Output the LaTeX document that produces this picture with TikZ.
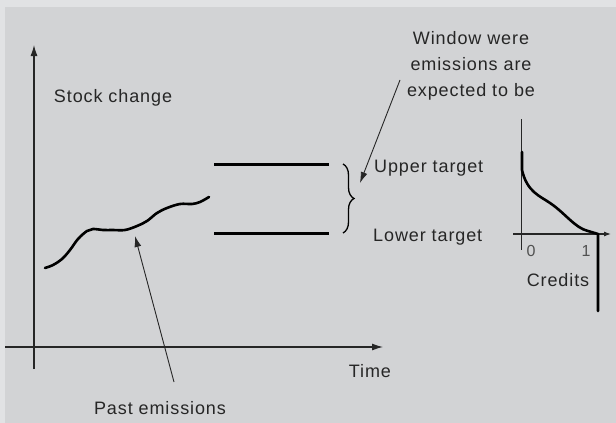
\documentclass[tikz,border=0pt]{standalone}
\usepackage{fontspec}
\setmainfont{Liberation Sans}[LetterSpace=5]
\usetikzlibrary{positioning,arrows.meta,decorations.pathreplacing}
\definecolor{panel}{HTML}{D2D3D5}
\definecolor{band}{HTML}{E1E2E4}
\definecolor{ink}{HTML}{262626}
\tikzset{
  axis/.style={draw=ink, line width=1.1pt},
  level/.style={draw=black, line width=3pt},
  trace/.style={draw=black, line width=2.6pt, line cap=round, line join=round},
  pointer/.style={draw=ink, line width=0.9pt, -{Latex[length=11pt,width=7pt]}},
  label/.style={font=\fontsize{18}{26}\selectfont, text=ink, inner sep=0pt},
  ticklabel/.style={font=\fontsize{16}{18}\selectfont, text=ink!80, inner sep=0pt},
}

\begin{document}
\begin{tikzpicture}[x=1pt,y=-1pt]
%background
	\fill[band] (0,0) rectangle (616,423);
	\fill[panel] (5,7) rectangle (616,423);
	\useasboundingbox (0,0) rectangle (616,423);

%main axes
	\coordinate (yBot) at (34,369);
	\coordinate (yTop) at (34,45);
	\coordinate (xLeft) at (5,347);
	\coordinate (xRight) at (383,347);
	\draw[axis, -{Latex[length=11pt,width=7pt]}] (yBot) -- (yTop);
	\draw[axis, -{Latex[length=11pt,width=7pt]}] (xLeft) -- (xRight);

	\node[label] (stock) at (113,98) {Stock change};
	\node[label] (time) at (370,371) {Time};
	\node[label] (past) at (160,408) {Past emissions};

%past emissions
	\draw[trace] plot[smooth, tension=0.6] coordinates {
		(45,268) (53,265) (62,259) (70,250) (78,239) (87,231) (93,229)
		(103,230) (113,230) (125,230) (137,226) (147,221) (157,213)
		(167,208) (180,204) (192,204) (200,202) (209,197)};
	\coordinate (curveHit) at (135,236);
	\coordinate (pastFoot) at (174,382);
	\draw[pointer] (pastFoot) -- (curveHit);

%targets
	\coordinate (upA) at (214,164);
	\coordinate (upB) at (329,164);
	\coordinate (loA) at (214,233);
	\coordinate (loB) at (329,233);
	\draw[level] (upA) -- (upB);
	\draw[level] (loA) -- (loB);

	\coordinate (braceTop) at (343,164);
	\coordinate (braceBot) at (343,233);
	\draw[draw=black, line width=1.3pt, decorate,
		decoration={brace, amplitude=11pt, aspect=0.5}] (braceTop) -- (braceBot);

	\node[label, anchor=west] (upper) at (374,168) {Upper target};
	\node[label, anchor=west] (lower) at (373,237) {Lower target};

	\node[label, align=center] (window) at (471,66) {Window were\\emissions are\\expected to be};
	\coordinate (winFoot) at (400,80);
	\coordinate (braceHit) at (360,183);
	\draw[pointer] (winFoot) -- (braceHit);

%credits
	\coordinate (cTop) at (521,119);
	\coordinate (cBot) at (521,250);
	\coordinate (cLeft) at (513,234);
	\coordinate (cRight) at (611,234);
	\draw[axis, line width=0.9pt] (cTop) -- (cBot);
	\draw[axis, -{Latex[length=7pt,width=5pt]}] (cLeft) -- (cRight);

	\coordinate (cStart) at (522,152);
	\coordinate (cKnee) at (522,170);
	\coordinate (cEnd) at (598,234);
	\coordinate (cDrop) at (598,311);
	\draw[trace] (cStart) -- (cKnee)
		.. controls (527,192) and (540,196) .. (550,203)
		.. controls (565,213) and (575,228) .. (588,231)
		-- (cEnd) -- (cDrop);

	\node[ticklabel] (zero) at (531,251) {0};
	\node[ticklabel] (one) at (586,251) {1};
	\node[label] (credits) at (558,280) {Credits};
\end{tikzpicture}
\end{document}
